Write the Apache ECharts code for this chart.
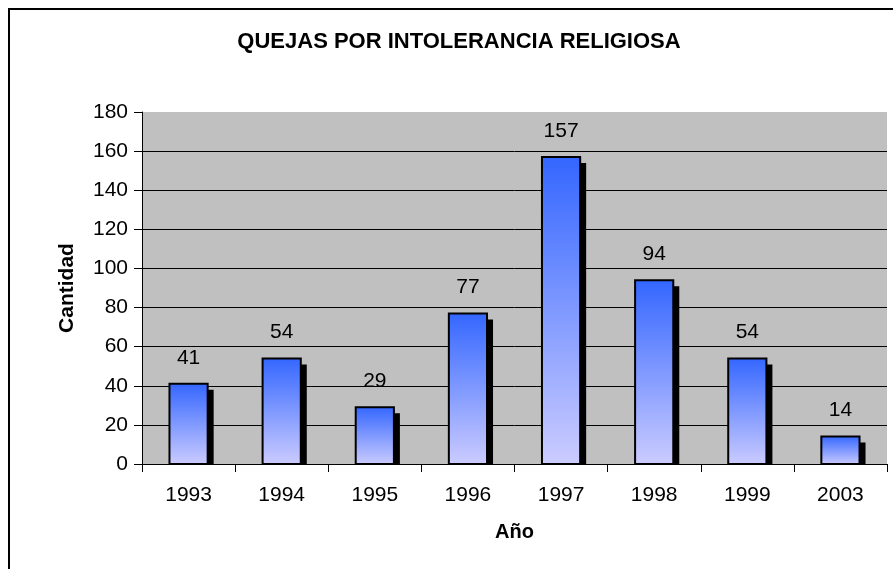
<!DOCTYPE html>
<html><head><meta charset="utf-8">
<script src="https://cdn.jsdelivr.net/npm/echarts@6/dist/echarts.min.js"></script>
<style>html,body{margin:0;padding:0;background:#fff}#c{width:893px;height:569px}</style>
</head><body><div id="c"></div>
<script>
const categories = ['1993','1994','1995','1996','1997','1998','1999','2003'];
const values = [41, 54, 29, 77, 157, 94, 54, 14];
const yMin = 0, yMax = 180, yStep = 20;
const titleText = 'QUEJAS POR INTOLERANCIA RELIGIOSA';
const xName = 'Año';
const yName = 'Cantidad';

const FONT = '"Liberation Sans", Arial, sans-serif';
const chart = echarts.init(document.getElementById('c'), null, {renderer: 'canvas'});

function renderItem(params, api) {
  const v = api.value(1);
  const top = api.coord([api.value(0), v]);
  const base = api.coord([api.value(0), 0]);
  const bw = api.size([1, 0])[0] * 0.41;
  const x = top[0] - bw / 2;
  const h = base[1] - top[1];
  const sh = 6;
  return {
    type: 'group',
    children: [
      {type: 'rect', shape: {x: x + sh, y: top[1] + sh, width: bw, height: Math.max(0, h - sh)}, style: {fill: '#000'}},
      {type: 'rect', shape: {x: x, y: top[1], width: bw, height: h},
        style: {fill: new echarts.graphic.LinearGradient(0, 0, 0, 1, [{offset: 0, color: '#3366FF'}, {offset: 1, color: '#CCCCFF'}]), stroke: '#000', lineWidth: 2}},
      {type: 'text', style: {text: String(v), x: top[0], y: top[1] - 26, align: 'center', verticalAlign: 'middle', font: '21px ' + FONT, fill: '#000'}}
    ]
  };
}

chart.setOption({
  animation: false,
  backgroundColor: '#fff',
  graphic: [
    {type: 'rect', shape: {x: 9, y: 9, width: 900, height: 600}, style: {fill: 'none', stroke: '#000', lineWidth: 2}, z: -1},
    {type: 'text', x: 459, y: 42, style: {text: titleText, align: 'center', verticalAlign: 'middle', font: 'bold 22px ' + FONT, fill: '#000'}}
  ],
  grid: {left: 142, right: 6, top: 112, bottom: 105, show: true, backgroundColor: '#C0C0C0', borderWidth: 0},
  xAxis: {
    type: 'category', data: categories,
    name: xName, nameLocation: 'middle', nameGap: 58,
    nameTextStyle: {fontFamily: FONT, fontWeight: 'bold', fontSize: 20, color: '#000'},
    axisLine: {lineStyle: {color: '#000', width: 1}},
    axisTick: {show: true, inside: false, length: 8, alignWithLabel: false, lineStyle: {color: '#000'}},
    axisLabel: {fontFamily: FONT, fontSize: 21, color: '#000', margin: 21},
    splitLine: {show: false}
  },
  yAxis: {
    type: 'value', min: yMin, max: yMax, interval: yStep,
    name: yName, nameLocation: 'middle', nameGap: 64,
    nameTextStyle: {fontFamily: FONT, fontWeight: 'bold', fontSize: 21, color: '#000'},
    axisLine: {show: true, lineStyle: {color: '#000', width: 1}},
    axisTick: {show: true, inside: false, length: 8, lineStyle: {color: '#000'}},
    axisLabel: {fontFamily: FONT, fontSize: 21, color: '#000', margin: 14},
    splitLine: {show: true, showMaxLine: false, lineStyle: {color: '#000', width: 1}}
  },
  series: [{
    type: 'custom',
    renderItem: renderItem,
    encode: {x: 0, y: 1},
    data: values.map((v, i) => [i, v]),
    clip: false
  }]
});
</script>
</body></html>
